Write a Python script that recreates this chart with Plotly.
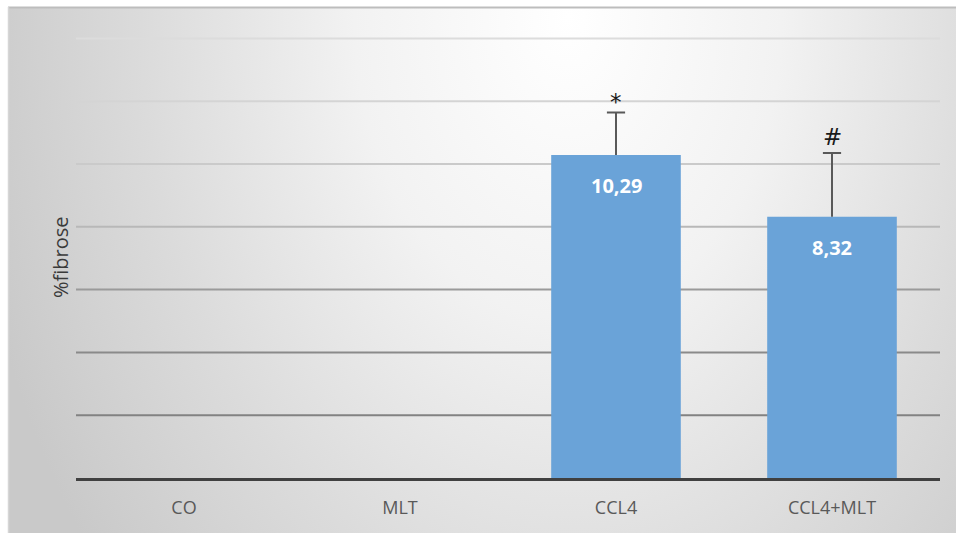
import plotly.graph_objects as go
import urllib.parse

# ---- data ----
categories = ["CO", "MLT", "CCL4", "CCL4+MLT"]
values = [0, 0, 10.29, 8.32]
errors = [0, 0, 1.35, 2.03]
markers = ["", "", "*", "#"]
grid_values = [2, 4, 6, 8, 10, 12, 14]
y_max = 15

# ---- style ----
W, H = 956, 533
L, R, T, B = 76, 16, 7, 55
grid_colors = ["#828282", "#8a8a8a", "#9a9a9a", "#b8b8b8", "#cacaca", "#d4d4d4", "#dcdcdc"]
bar_color = "#6aa3d8"
err_color = "#595959"
marker_shift = {"*": -4, "#": 1}

pw, ph = W - L - R, H - T - B

svg = (
    "<svg xmlns='http://www.w3.org/2000/svg' width='948' height='526' viewBox='0 0 948 526' preserveAspectRatio='none'>"
    "<defs><radialGradient id='g' gradientUnits='userSpaceOnUse' cx='0' cy='0' r='1' "
    "gradientTransform='translate(560,10) scale(610,860)'>"
    "<stop offset='0' stop-color='#ffffff'/>"
    "<stop offset='0.35' stop-color='#f2f2f2'/>"
    "<stop offset='0.7' stop-color='#dbdbdb'/>"
    "<stop offset='1' stop-color='#c9c9c9'/>"
    "</radialGradient></defs>"
    "<rect x='0' y='0' width='948' height='526' fill='url(#g)'/></svg>"
)
src = "data:image/svg+xml;charset=utf-8," + urllib.parse.quote(svg)


def px_to_paper_x(px):
    return (px - L) / pw


def px_to_paper_y(py):
    return (H - B - py) / ph


fig = go.Figure()
fig.add_trace(go.Bar(
    x=categories, y=values, width=0.6,
    marker=dict(color=bar_color, line=dict(width=0)),
    error_y=dict(type="data", symmetric=False, array=errors,
                 arrayminus=[0 for _ in errors],
                 color=err_color, thickness=2, width=0),
    hoverinfo="skip",
))
# error-bar caps (upper only)
cap_x = [c for c, e in zip(categories, errors) if e]
cap_y = [v + e for v, e in zip(values, errors) if e]
fig.add_trace(go.Scatter(
    x=cap_x, y=cap_y, mode="markers",
    marker=dict(symbol="line-ew", size=13, line=dict(color=err_color, width=2)),
    hoverinfo="skip", cliponaxis=False,
))

shapes = []
for gv, gc in zip(grid_values, grid_colors):
    shapes.append(dict(type="line", xref="paper", yref="y", x0=0, x1=1, y0=gv, y1=gv,
                       line=dict(color=gc, width=2), layer="below"))
# chart frame: top and left edges
shapes.append(dict(type="line", xref="paper", yref="paper",
                   x0=px_to_paper_x(8), x1=px_to_paper_x(W),
                   y0=px_to_paper_y(7.5), y1=px_to_paper_y(7.5),
                   line=dict(color="#bdbdbd", width=2), layer="below"))
shapes.append(dict(type="line", xref="paper", yref="paper",
                   x0=px_to_paper_x(8.5), x1=px_to_paper_x(8.5),
                   y0=px_to_paper_y(7), y1=px_to_paper_y(H),
                   line=dict(color="#d6d6d6", width=1.5), layer="below"))

annotations = []
for c, v, e, m in zip(categories, values, errors, markers):
    if v:
        annotations.append(dict(x=c, y=v, xref="x", yref="y", text=f"{v:.2f}".replace(".", ","),
                                showarrow=False, yanchor="top", yshift=-15,
                                font=dict(family="Open Sans", size=20, color="white", weight="bold")))
    if m:
        annotations.append(dict(x=c, y=v + (e or 0), xref="x", yref="y", text=m,
                                showarrow=False, yanchor="bottom", yshift=marker_shift.get(m, 0),
                                font=dict(family="DejaVu Sans", size=23, color="#1a1a1a")))
annotations.append(dict(x=px_to_paper_x(60), y=px_to_paper_y(257), xref="paper", yref="paper",
                        text="%fibrose", textangle=-90, showarrow=False,
                        xanchor="center", yanchor="middle",
                        font=dict(family="Open Sans", size=20, color="#3a3a3a")))

fig.update_layout(
    width=W, height=H,
    margin=dict(l=L, r=R, t=T, b=B),
    paper_bgcolor="white",
    plot_bgcolor="rgba(0,0,0,0)",
    showlegend=False,
    bargap=0.4,
    shapes=shapes,
    annotations=annotations,
    images=[dict(source=src, xref="paper", yref="paper",
                 x=px_to_paper_x(8), y=px_to_paper_y(7),
                 sizex=(W - 8) / pw, sizey=(H - 7) / ph,
                 xanchor="left", yanchor="top", sizing="stretch", layer="below")],
    xaxis=dict(showgrid=False, showline=True, linecolor="#404040", linewidth=3,
               ticks="", tickfont=dict(family="Open Sans", size=18, color="#595959"),
               ticklabelstandoff=11, zeroline=False, fixedrange=True),
    yaxis=dict(range=[0, y_max], showgrid=False, showticklabels=False, zeroline=False,
               showline=False, ticks="", fixedrange=True),
)

fig.write_html("out.html")
